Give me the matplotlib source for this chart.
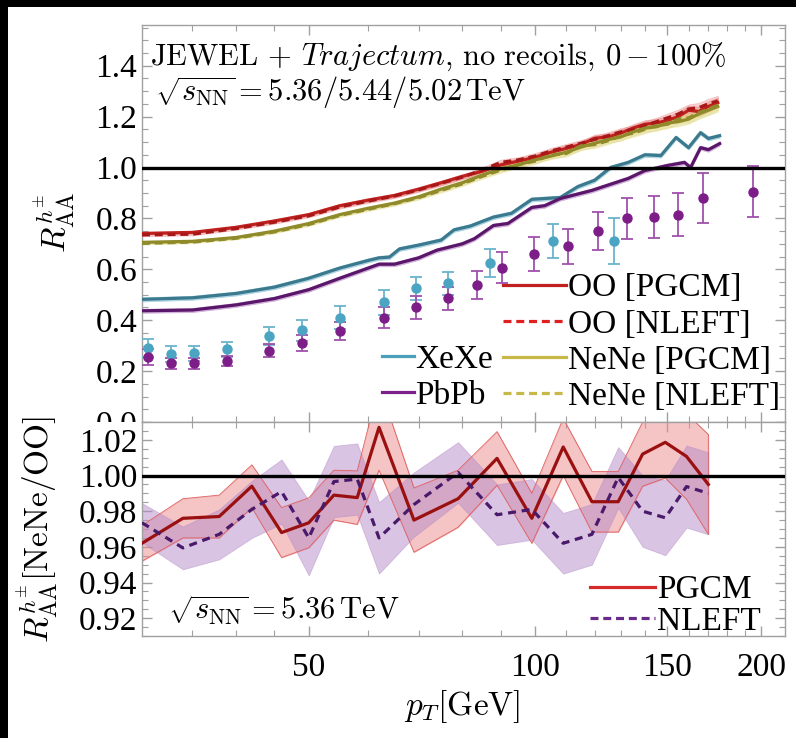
import numpy as np
import matplotlib
matplotlib.use('Agg')
import matplotlib.pyplot as plt
from matplotlib.patches import Rectangle
from matplotlib.lines import Line2D
from matplotlib.ticker import FixedLocator, NullFormatter, MultipleLocator

plt.rcParams['font.family'] = 'serif'
plt.rcParams['font.serif'] = ['Liberation Serif', 'DejaVu Serif']
plt.rcParams['mathtext.fontset'] = 'cm'

# ---- top panel: JEWEL curves (OO / NeNe share one pT grid)
pt_light = [30, 35, 40, 45, 50, 55, 60, 65, 70, 75, 80, 85, 90, 95, 100, 105, 110,
            115, 120, 125, 130, 135, 140, 145, 150, 155, 160, 165, 170, 175]
oo_pgcm = [0.741, 0.745, 0.765, 0.79, 0.815, 0.85, 0.872, 0.89, 0.915, 0.94, 0.965, 0.985,
           1.01, 1.025, 1.04, 1.06, 1.075, 1.09, 1.115, 1.12, 1.135, 1.155, 1.17, 1.175,
           1.185, 1.20, 1.225, 1.22, 1.24, 1.255]
oo_nleft = [0.735, 0.738, 0.76, 0.785, 0.81, 0.845, 0.868, 0.888, 0.912, 0.938, 0.962, 0.99,
            1.02, 1.03, 1.045, 1.065, 1.08, 1.095, 1.11, 1.125, 1.14, 1.15, 1.165, 1.18,
            1.195, 1.21, 1.23, 1.235, 1.25, 1.262]
nene_pgcm = [0.706, 0.71, 0.725, 0.75, 0.78, 0.815, 0.84, 0.86, 0.885, 0.915, 0.94, 0.97,
             0.995, 1.01, 1.03, 1.045, 1.06, 1.08, 1.095, 1.11, 1.12, 1.14, 1.155, 1.16,
             1.175, 1.18, 1.19, 1.21, 1.225, 1.24]
nene_nleft = [0.702, 0.707, 0.722, 0.747, 0.776, 0.812, 0.836, 0.858, 0.882, 0.91, 0.936, 0.965,
              0.99, 1.012, 1.025, 1.05, 1.055, 1.085, 1.09, 1.105, 1.125, 1.135, 1.15, 1.165,
              1.17, 1.19, 1.195, 1.215, 1.23, 1.245]
light_err = [0.005, 0.005, 0.005, 0.006, 0.006, 0.007, 0.007, 0.008, 0.008, 0.009, 0.009, 0.01,
             0.011, 0.011, 0.012, 0.012, 0.013, 0.013, 0.014, 0.014, 0.015, 0.015, 0.016, 0.016,
             0.017, 0.018, 0.018, 0.019, 0.02, 0.02]

xexe_curve_pt = [30, 35, 40, 45, 50, 55, 60, 62, 64, 66, 70, 75, 78, 82, 88, 93, 99, 108,
                 114, 120, 126, 133, 140, 147, 154, 160, 166, 170, 176]
xexe_curve = [0.482, 0.488, 0.505, 0.53, 0.565, 0.605, 0.635, 0.645, 0.648, 0.68, 0.695, 0.715,
              0.755, 0.77, 0.805, 0.82, 0.875, 0.882, 0.925, 0.95, 1.0, 1.02, 1.05, 1.047,
              1.118, 1.078, 1.137, 1.114, 1.125]
pbpb_curve_pt = [30, 35, 40, 45, 50, 55, 60, 62, 65, 70, 74, 80, 83, 88, 92, 99, 103, 108,
                 119, 133, 140, 150, 158, 161, 166, 170, 176]
pbpb_curve = [0.437, 0.44, 0.46, 0.485, 0.52, 0.565, 0.605, 0.62, 0.62, 0.645, 0.675, 0.70,
              0.72, 0.772, 0.78, 0.843, 0.85, 0.878, 0.91, 0.957, 0.988, 1.008, 1.02, 1.0,
              1.078, 1.07, 1.094]
heavy_err = 0.008

# ---- top panel: measured points
xexe_pt = [30.6, 32.8, 35.2, 38.9, 44.2, 48.9, 55.1, 62.9, 69.4, 76.5, 87.2, 105.8, 127.5]
xexe_raa = [0.29, 0.267, 0.27, 0.286, 0.337, 0.36, 0.41, 0.47, 0.525, 0.545, 0.624, 0.71, 0.71]
xexe_err = [0.035, 0.03, 0.03, 0.03, 0.035, 0.04, 0.045, 0.05, 0.045, 0.045, 0.055, 0.067, 0.09]
pbpb_pt = [30.6, 32.8, 35.2, 38.9, 44.2, 48.9, 55.1, 62.9, 69.4, 76.5, 83.8, 90.5, 99.8,
           110.7, 121.2, 132.4, 143.8, 154.8, 167.5, 195.2]
pbpb_raa = [0.255, 0.23, 0.23, 0.24, 0.28, 0.31, 0.357, 0.41, 0.45, 0.486, 0.54, 0.607, 0.66,
            0.69, 0.75, 0.80, 0.805, 0.815, 0.88, 0.905]
pbpb_err = [0.03, 0.02, 0.02, 0.02, 0.025, 0.03, 0.035, 0.04, 0.045, 0.045, 0.055, 0.06, 0.065,
            0.07, 0.075, 0.08, 0.083, 0.085, 0.098, 0.10]

# ---- bottom panel: NeNe/OO ratio
ratio_pt = [30, 34, 38, 42, 46, 50, 54, 58, 62, 69, 79, 89, 99, 109, 119, 129, 139, 149, 159, 170]
pgcm_ratio = [0.962, 0.976, 0.977, 0.994, 0.968, 0.9735, 0.989, 0.9876, 1.027, 0.975, 0.987,
              1.0096, 0.976, 1.016, 0.9853, 0.9853, 1.012, 1.0186, 1.0107, 0.995]
pgcm_err = [0.010, 0.011, 0.012, 0.012, 0.014, 0.014, 0.014, 0.015, 0.024, 0.018, 0.016, 0.015,
            0.014, 0.016, 0.017, 0.017, 0.018, 0.02, 0.024, 0.028]
nleft_ratio = [0.9735, 0.9594, 0.967, 0.981, 0.991, 0.965, 0.9966, 0.998, 0.965, 0.9837, 1.0017,
               0.978, 0.981, 0.962, 0.967, 0.9989, 0.980, 0.9763, 0.9938, 0.990]
nleft_err = [0.011, 0.012, 0.014, 0.016, 0.018, 0.021, 0.02, 0.02, 0.02, 0.018, 0.017, 0.017,
             0.017, 0.017, 0.017, 0.017, 0.02, 0.021, 0.023, 0.023]

c_oo = '#c0201e'
c_nene = '#a89d30'
c_xexe = '#3b7a8e'
c_pbpb = '#5a176a'
c_xexe_pt = '#4ba4c2'
c_pbpb_pt = '#7d1d88'
grey = '#a0a0a0'

fig = plt.figure(figsize=(7.96, 7.38), dpi=100)
ax1 = fig.add_axes([142 / 796, 1 - 422 / 738, 643 / 796, 397 / 738], zorder=0)
ax2 = fig.add_axes([142 / 796, 1 - 636 / 738, 643 / 796, 214 / 738], zorder=2)


def band(ax, x, y, e, color, alpha, z):
    x = np.asarray(x)
    y = np.asarray(y)
    e = np.asarray(e) * np.ones_like(y)
    ax.fill_between(x, y - e, y + e, color=color, alpha=alpha, lw=0.6, zorder=z)


# bands + lines
band(ax1, pt_light, oo_pgcm, light_err, '#e88080', 0.45, 2)
band(ax1, pt_light, oo_nleft, light_err, '#e88080', 0.35, 2)
band(ax1, pt_light, nene_pgcm, light_err, '#e0d880', 0.45, 2)
band(ax1, pt_light, nene_nleft, light_err, '#e0d880', 0.35, 2)
band(ax1, xexe_curve_pt, xexe_curve, heavy_err, '#8cc4d8', 0.6, 2)
band(ax1, pbpb_curve_pt, pbpb_curve, heavy_err, '#c090cc', 0.6, 2)

ax1.plot(pt_light, oo_pgcm, color=c_oo, lw=2.3, zorder=3)
ax1.plot(pt_light, oo_nleft, color='#a81818', lw=2.3, ls=(0, (2.5, 1.5)), zorder=3)
ax1.plot(pt_light, nene_pgcm, color='#8f8a2a', lw=2.3, zorder=3)
ax1.plot(pt_light, nene_nleft, color='#8f8a2a', lw=2.3, ls=(0, (2.5, 1.5)), zorder=3)
ax1.plot(xexe_curve_pt, xexe_curve, color=c_xexe, lw=2.3, zorder=3)
ax1.plot(pbpb_curve_pt, pbpb_curve, color=c_pbpb, lw=2.3, zorder=3)

ax1.errorbar(xexe_pt, xexe_raa, yerr=xexe_err, fmt='o', ms=6.5, color=c_xexe_pt,
             ecolor='#6ab4cc', elinewidth=1.3, capsize=4.5, capthick=1.3, zorder=4)
ax1.errorbar(pbpb_pt, pbpb_raa, yerr=pbpb_err, fmt='o', ms=6.5, color=c_pbpb_pt,
             ecolor='#a050ac', elinewidth=1.3, capsize=4.5, capthick=1.3, zorder=4)

ax1.axhline(1.0, color='black', lw=2.4, zorder=5)

# bottom ratio panel
band(ax2, ratio_pt, pgcm_ratio, pgcm_err, '#ec8a8a', 0.5, 2)
band(ax2, ratio_pt, nleft_ratio, nleft_err, '#b48cc8', 0.5, 2)
ax2.fill_between(ratio_pt, np.array(pgcm_ratio) - pgcm_err, np.array(pgcm_ratio) + pgcm_err,
                 facecolor='none', edgecolor='#e06060', lw=0.6, zorder=2)
ax2.plot(ratio_pt, pgcm_ratio, color='#9a1010', lw=2.3, zorder=3)
ax2.plot(ratio_pt, nleft_ratio, color='#4a1a6a', lw=2.3, ls=(0, (2.5, 1.8)), zorder=3)
ax2.axhline(1.0, color='black', lw=2.4, zorder=5)

# axes style
minor_x = [35, 40, 45, 60, 70, 80, 90, 110, 120, 130, 140, 160, 170, 180, 190]
for ax in (ax1, ax2):
    ax.set_xscale('log')
    ax.set_xlim(30, 215)
    ax.xaxis.set_major_locator(FixedLocator([50, 100, 150, 200]))
    ax.xaxis.set_minor_locator(FixedLocator(minor_x))
    ax.xaxis.set_minor_formatter(NullFormatter())
    ax.tick_params(which='both', direction='in', top=True, right=True, colors=grey,
                   labelcolor='black', labelsize=24)
    ax.tick_params(which='major', length=7, width=1)
    ax.tick_params(which='minor', length=4, width=0.8)
    for s in ax.spines.values():
        s.set_color(grey)
        s.set_linewidth(1)

ax1.set_ylim(0, 1.56)
ax1.yaxis.set_major_locator(MultipleLocator(0.2))
ax1.yaxis.set_minor_locator(MultipleLocator(0.05))
ax1.yaxis.set_major_formatter(plt.FuncFormatter(lambda v, p: f'{v:.1f}'))
ax1.tick_params(axis='x', labelbottom=False)

ax2.set_ylim(0.91, 1.03)
ax2.yaxis.set_major_locator(MultipleLocator(0.02))
ax2.yaxis.set_minor_locator(MultipleLocator(0.005))
ax2.yaxis.set_major_formatter(plt.FuncFormatter(lambda v, p: f'{v:.2f}'))
ax2.set_xticklabels(['50', '100', '150', '200'])
ax2.tick_params(axis='x', pad=12)

# legends
leg_a = ax1.legend([Line2D([], [], color=c_oo, lw=2.3),
                    Line2D([], [], color='#e02020', lw=2.3, ls=(0, (2.5, 1.5))),
                    Line2D([], [], color='#c8b848', lw=2.3),
                    Line2D([], [], color='#c8b848', lw=2.3, ls=(0, (2.5, 1.5)))],
                   ['OO [PGCM]', 'OO [NLEFT]', 'NeNe [PGCM]', 'NeNe [NLEFT]'],
                   loc='upper left', bbox_to_anchor=(503 / 796, 1 - 273 / 738),
                   bbox_transform=fig.transFigure, frameon=False, fontsize=24,
                   handlelength=1.9, handletextpad=0.05, labelspacing=0.17,
                   borderpad=0, borderaxespad=0)
ax1.add_artist(leg_a)
ax1.legend([Line2D([], [], color='#4aa0bb', lw=2.3),
            Line2D([], [], color='#7a2088', lw=2.3)],
           ['XeXe', 'PbPb'],
           loc='upper left', bbox_to_anchor=(382 / 796, 1 - 344 / 738),
           bbox_transform=fig.transFigure, frameon=False, fontsize=24,
           handlelength=0.95, handletextpad=0.05, labelspacing=0.17,
           borderpad=0, borderaxespad=0)
ax2.legend([Line2D([], [], color='#d42a2a', lw=2.3),
            Line2D([], [], color='#6a2a8a', lw=2.3, ls=(0, (2.5, 1.5)))],
           ['PGCM', 'NLEFT'],
           loc='upper left', bbox_to_anchor=(590 / 796, 1 - 575 / 738),
           bbox_transform=fig.transFigure, frameon=False, fontsize=24,
           handlelength=1.95, handletextpad=0.05, labelspacing=0.03,
           borderpad=0, borderaxespad=0)

# annotations
fig.text(150 / 796, 1 - 57 / 738,
         r'$\mathrm{JEWEL}\,+\,\mathit{Trajectum}\mathrm{,\,no\ recoils,}\,0-100\%$',
         fontsize=22, va='center', ha='left')
fig.text(155 / 796, 1 - 92 / 738, r'$\sqrt{s_{\rm NN}}=5.36/5.44/5.02\,\mathrm{TeV}$',
         fontsize=22, va='center', ha='left')
fig.text(168 / 796, 1 - 610 / 738, r'$\sqrt{s_{\rm NN}}=5.36\,\mathrm{TeV}$',
         fontsize=22, va='center', ha='left', zorder=6)

fig.text(54 / 796, 1 - 222 / 738, r'$R_{\rm AA}^{h^{\pm}}$', fontsize=24,
         rotation=90, ha='center', va='center')
fig.text(37 / 796, 1 - 529 / 738, r'$R_{\rm AA}^{h^{\pm}}[\rm NeNe/OO]$', fontsize=24,
         rotation=90, ha='center', va='center', zorder=6)
fig.text(462 / 796, 1 - 707 / 738, r'$p_T[\rm GeV]$', fontsize=24,
         ha='center', va='center')

# mask that clips the lower half of the "0.0" label, plus black frame strips
fig.patches.append(Rectangle((0, 0), 140 / 796, 1 - 422 / 738, transform=fig.transFigure,
                             facecolor='white', edgecolor='none', zorder=1))
fig.patches.append(Rectangle((0, 1 - 7 / 738), 1, 7 / 738, transform=fig.transFigure,
                             facecolor='black', edgecolor='none', zorder=7))
fig.patches.append(Rectangle((0, 0), 8 / 796, 1, transform=fig.transFigure,
                             facecolor='black', edgecolor='none', zorder=7))

fig.savefig('out.png', dpi=100, facecolor='white')
